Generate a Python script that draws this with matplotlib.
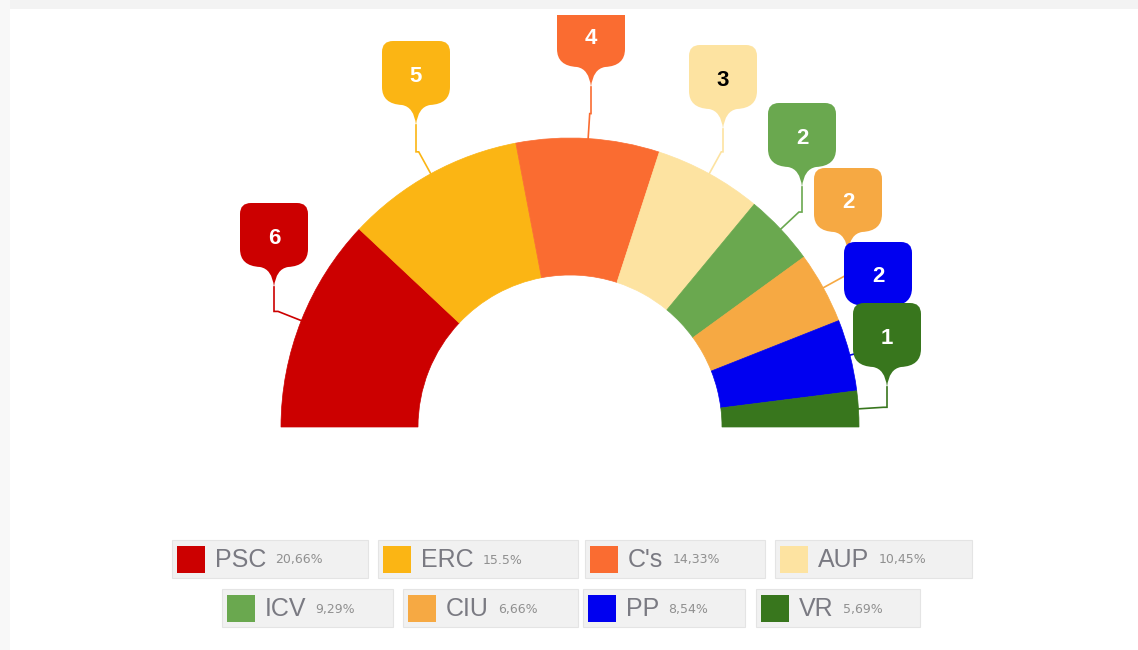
import matplotlib
matplotlib.use('Agg')
import matplotlib.pyplot as plt
from matplotlib.patches import Wedge, Rectangle, PathPatch
from matplotlib.path import Path
import numpy as np

# Data
parties = ['PSC', 'ERC', "C's", 'AUP', 'ICV', 'CIU', 'PP', 'VR']
seats = [6, 5, 4, 3, 2, 2, 2, 1]
vote_share = ['20,66%', '15.5%', '14,33%', '10,45%', '9,29%', '6,66%', '8,54%', '5,69%']
colors = ['#cc0000', '#fbb514', '#fa6c31', '#fde3a1',
          '#6aa84f', '#f6a943', '#0000f0', '#38761d']
text_colors = ['white', 'white', 'white', 'black', 'white', 'white', 'white', 'white']

# Layout (pixel coordinates, y pointing down)
W, H = 1138, 650
CX, CY = 570, 427
R_OUT, R_IN = 289, 152
# label bubble centre x / top y
bubble_pos = [(274, 203), (416, 41), (591, 3), (723, 45),
              (802, 103), (848, 168), (878, 242), (887, 303)]
legend_rows = [(540, 578), (589, 627)]
legend_boxes = [(172, 368, 0), (378, 578, 0), (585, 765, 0), (775, 972, 0),
                (222, 393, 1), (403, 578, 1), (583, 745, 1), (756, 920, 1)]

fig = plt.figure(figsize=(W / 100, H / 100), dpi=100)
ax = fig.add_axes([0, 0, 1, 1])
ax.set_xlim(0, W)
ax.set_ylim(H, 0)
ax.axis('off')

# faint card shadow on the top and left edges
ax.add_patch(Rectangle((0, 0), W, 9, facecolor='#f3f3f3', edgecolor='none', zorder=0))
ax.add_patch(Rectangle((0, 0), 10, H, facecolor='#f8f8f8', edgecolor='none', zorder=0))

clip = Rectangle((0, 15), W, H - 15, transform=ax.transData)


def pt(r, phi):
    a = np.radians(phi)
    return CX + r * np.cos(a), CY - r * np.sin(a)


def bubble(cx, top, w=68, h=60, r=11, neck=8, tip=84):
    l, rt = cx - w / 2, cx + w / 2
    b = top + h
    verts = [(l + r, top), (rt - r, top),
             (rt, top), (rt, top + r),
             (rt, b - 14),
             (rt, b + 3), (cx + neck + 6, b + 4),
             (cx + 2, b + 6), (cx, top + tip),
             (cx - 2, b + 6), (cx - neck - 6, b + 4),
             (l, b + 3), (l, b - 14),
             (l, top + r),
             (l, top), (l + r, top),
             (l + r, top)]
    codes = [Path.MOVETO, Path.LINETO,
             Path.CURVE3, Path.CURVE3,
             Path.LINETO,
             Path.CURVE3, Path.CURVE3,
             Path.CURVE3, Path.CURVE3,
             Path.CURVE3, Path.CURVE3,
             Path.CURVE3, Path.CURVE3,
             Path.LINETO,
             Path.CURVE3, Path.CURVE3,
             Path.CLOSEPOLY]
    return Path(verts, codes)


total = sum(seats)
cum = np.concatenate([[0], np.cumsum(seats)])
for i, party in enumerate(parties):
    phi1 = 180 - 180 * cum[i] / total
    phi2 = 180 - 180 * cum[i + 1] / total
    # y axis is inverted, so screen angle phi -> data angle -phi
    ax.add_patch(Wedge((CX, CY), R_OUT, -phi1, -phi2, width=R_OUT - R_IN,
                       facecolor=colors[i], edgecolor=colors[i], lw=0.5, zorder=2))

    mid = (phi1 + phi2) / 2
    bx, btop = bubble_pos[i]
    tip_y = btop + 84
    p0 = pt(R_OUT, mid)
    p1 = pt(R_OUT + 25, mid)
    xs = [p0[0], p1[0], bx, bx]
    ys = [p0[1], p1[1], p1[1], tip_y]
    ax.plot(xs, ys, color=colors[i], lw=1.2, zorder=1, solid_joinstyle='miter')

for i, party in enumerate(parties):
    bx, btop = bubble_pos[i]
    patch = PathPatch(bubble(bx, btop), facecolor=colors[i], edgecolor='none',
                      zorder=5 + i)
    ax.add_patch(patch)
    patch.set_clip_path(clip)
    ax.text(bx, btop + 35, str(seats[i]), ha='center', va='center',
            fontsize=16, fontweight='bold', color=text_colors[i],
            family='Liberation Sans', zorder=5 + i + 0.5)

# Legend
fig.canvas.draw()
renderer = fig.canvas.get_renderer()
for i, party in enumerate(parties):
    x0, x1, row = legend_boxes[i]
    y0, y1 = legend_rows[row]
    ym = (y0 + y1) / 2
    ax.add_patch(Rectangle((x0, y0), x1 - x0, y1 - y0, facecolor='#f1f1f1',
                           edgecolor='#e4e4e4', lw=0.8, zorder=3))
    ax.add_patch(Rectangle((x0 + 5, ym - 13.5), 28, 27, facecolor=colors[i],
                           edgecolor='none', zorder=4))
    t = ax.text(x0 + 43, ym + 1, party, ha='left', va='center', fontsize=18,
                color='#7a7a82', family='Liberation Sans', zorder=4)
    bb = t.get_window_extent(renderer)
    ax.text(bb.x1 + 9, ym + 1, vote_share[i], ha='left', va='center', fontsize=9,
            color='#909090', family='DejaVu Sans', zorder=4)

fig.savefig('out.png', dpi=100, facecolor='white')
